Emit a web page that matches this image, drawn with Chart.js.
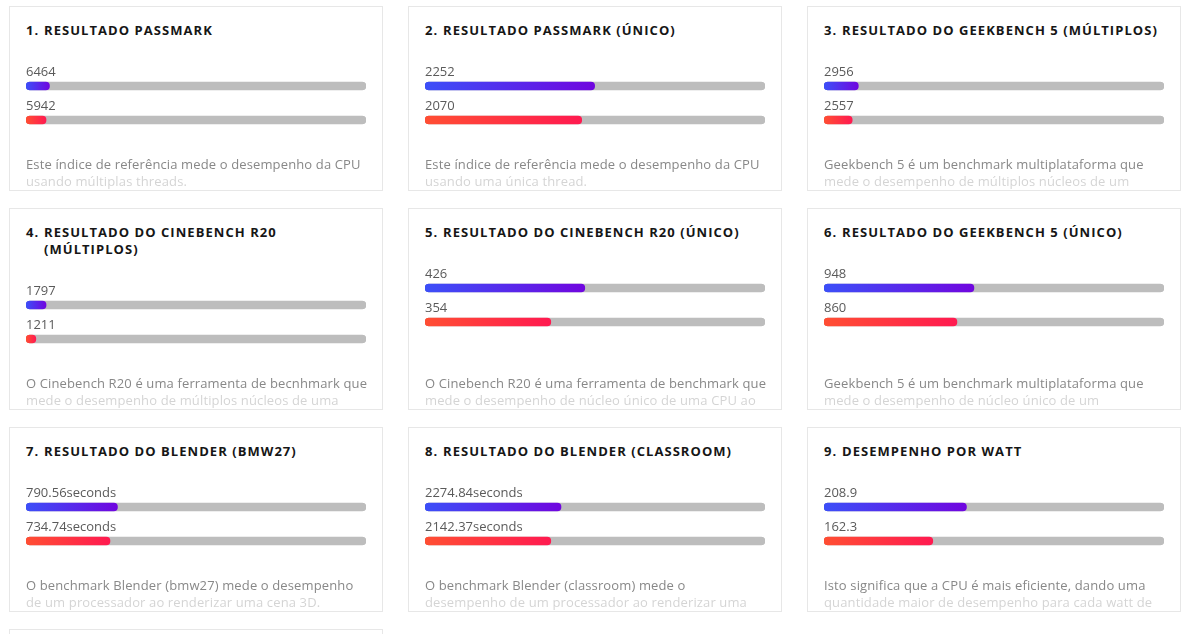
<!DOCTYPE html>
<html lang="pt">
<head>
  <meta charset="UTF-8">
  <title>Resultados de benchmark</title>
  <script src="https://cdn.jsdelivr.net/npm/chart.js"></script>
  <style>
    html, body { margin: 0; padding: 0; background: #fff; overflow: hidden; }
    body { width: 1183px; height: 634px; font-family: "Open Sans", "Noto Sans", sans-serif; }
    .grid {
      position: absolute; left: 9px; top: 6px;
      display: grid; grid-template-columns: repeat(3, 374px);
      column-gap: 25px; row-gap: 17.5px;
    }
    .card {
      box-sizing: border-box; border: 1px solid #e7e7e7; background: #fff;
      padding: 15px 16px 0 16px; display: flex; flex-direction: column;
    }
    .title {
      display: flex; font-weight: 700; font-size: 13px; line-height: 17px;
      letter-spacing: 1.05px; color: #161616; text-transform: uppercase;
    }
    .title .n { flex: 0 0 auto; width: 18px; }
    .bars { margin-top: 18px; height: 80px; margin-bottom: 18.5px; }
    .desc {
      margin-top: auto; height: 34px; overflow: hidden; white-space: pre-line;
      font-size: 13px; line-height: 17px; letter-spacing: 0.13px; color: #888;
      width: 360px;
      -webkit-mask-image: linear-gradient(to bottom, #000 0, #000 16px, rgba(0,0,0,0.36) 19px, rgba(0,0,0,0.36) 36px);
      mask-image: linear-gradient(to bottom, #000 0, #000 16px, rgba(0,0,0,0.36) 19px, rgba(0,0,0,0.36) 36px);
    }
  </style>
</head>
<body>
  <div class="grid" id="grid"></div>
  <script>
    const titles = [
      'RESULTADO PASSMARK',
      'RESULTADO PASSMARK (ÚNICO)',
      'RESULTADO DO GEEKBENCH 5 (MÚLTIPLOS)',
      'RESULTADO DO CINEBENCH R20 (MÚLTIPLOS)',
      'RESULTADO DO CINEBENCH R20 (ÚNICO)',
      'RESULTADO DO GEEKBENCH 5 (ÚNICO)',
      'RESULTADO DO BLENDER (BMW27)',
      'RESULTADO DO BLENDER (CLASSROOM)',
      'DESEMPENHO POR WATT'
    ];
    const scoreA = [6464, 2252, 2956, 1797, 426, 948, 790.56, 2274.84, 208.9];
    const scoreB = [5942, 2070, 2557, 1211, 354, 860, 734.74, 2142.37, 162.3];
    const units = ['', '', '', '', '', '', 'seconds', 'seconds', ''];
    // bar length as % of the track
    const fillA = [6.9, 49.9, 10.1, 5.9, 47.0, 44.1, 26.9, 40.0, 41.9];
    const fillB = [5.9, 46.1, 8.3, 2.9, 37.0, 39.1, 24.7, 37.0, 32.0];
    // line breaks where the original wraps
    const descriptions = [
      'Este índice de referência mede o desempenho da CPU\nusando múltiplas threads.',
      'Este índice de referência mede o desempenho da CPU\nusando uma única thread.',
      'Geekbench 5 é um benchmark multiplataforma que\nmede o desempenho de múltiplos núcleos de um\nprocessador.',
      'O Cinebench R20 é uma ferramenta de becnhmark que\nmede o desempenho de múltiplos núcleos de uma\nCPU ao renderizar uma cena 3D.',
      'O Cinebench R20 é uma ferramenta de benchmark que\nmede o desempenho de núcleo único de uma CPU ao\nrenderizar uma cena 3D.',
      'Geekbench 5 é um benchmark multiplataforma que\nmede o desempenho de núcleo único de um\nprocessador.',
      'O benchmark Blender (bmw27) mede o desempenho\nde um processador ao renderizar uma cena 3D.',
      'O benchmark Blender (classroom) mede o\ndesempenho de um processador ao renderizar uma\ncena 3D.',
      'Isto significa que a CPU é mais eficiente, dando uma\nquantidade maior de desempenho para cada watt de\nenergia.'
    ];

    const gradA = ['#3c4ff8', '#7006df'];
    const gradB = ['#ff4e33', '#ff1a50'];
    const trackColor = '#bdbdbd';

    const valueLabels = {
      id: 'valueLabels',
      afterDatasetsDraw(chart) {
        const { ctx, chartArea } = chart;
        const meta = chart.getDatasetMeta(0);
        const texts = chart.options.plugins.valueLabels.texts;
        ctx.save();
        ctx.font = '13px "Open Sans", "Noto Sans", sans-serif';
        ctx.fillStyle = '#5a5a5a';
        ctx.textBaseline = 'alphabetic';
        meta.data.forEach((bar, i) => {
          ctx.fillText(texts[i], chartArea.left, bar.y - 10);
        });
        ctx.restore();
      }
    };

    const grid = document.getElementById('grid');

    titles.forEach((t, k) => {
      const card = document.createElement('div');
      card.className = 'card';
      card.innerHTML =
        '<div class="title"><span class="n">' + (k + 1) + '.</span><span>' + t + '</span></div>' +
        '<div class="bars"><canvas width="340" height="80"></canvas></div>' +
        '<div class="desc"></div>';
      card.querySelector('.desc').textContent = descriptions[k];
      grid.appendChild(card);

      const canvas = card.querySelector('canvas');
      new Chart(canvas, {
        type: 'bar',
        data: {
          labels: ['a', 'b'],
          datasets: [
            {
              data: [fillA[k], fillB[k]],
              order: 0,
              grouped: false,
              barThickness: 8,
              borderRadius: 4,
              borderSkipped: false,
              backgroundColor: (c) => {
                const pair = c.dataIndex === 0 ? gradA : gradB;
                const chart = c.chart;
                if (!chart.chartArea || !chart.scales.x) return pair[0];
                const x0 = chart.scales.x.getPixelForValue(0);
                const x1 = chart.scales.x.getPixelForValue(c.raw);
                const g = chart.ctx.createLinearGradient(x0, 0, Math.max(x1, x0 + 1), 0);
                g.addColorStop(0, pair[0]);
                g.addColorStop(1, pair[1]);
                return g;
              }
            },
            {
              data: [100, 100],
              order: 1,
              grouped: false,
              barThickness: 8,
              borderRadius: 4,
              borderSkipped: false,
              backgroundColor: trackColor
            }
          ]
        },
        options: {
          indexAxis: 'y',
          responsive: false,
          animation: false,
          layout: { padding: { top: 12, left: 0, right: 0, bottom: 0 } },
          scales: {
            x: { display: false, min: 0, max: 100 },
            y: { display: false }
          },
          plugins: {
            legend: { display: false },
            tooltip: { enabled: false },
            valueLabels: { texts: [scoreA[k] + units[k], scoreB[k] + units[k]] }
          }
        },
        plugins: [valueLabels]
      });
    });

    // next card, only its top edge is in view
    const more = document.createElement('div');
    more.className = 'card';
    more.style.height = '185px';
    grid.appendChild(more);
  </script>
</body>
</html>
